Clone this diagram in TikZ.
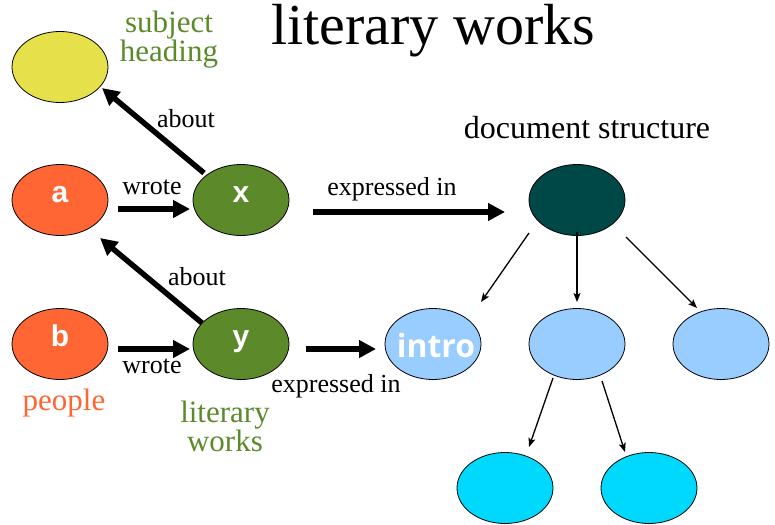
\documentclass[tikz,border=0pt]{standalone}
\usepackage{fontspec}
\setmainfont{Liberation Serif}
\newfontfamily\lsans{Liberation Sans}
\newfontfamily\osans{Open Sans}
\usetikzlibrary{shapes.geometric,arrows.meta}
\definecolor{cyel}{HTML}{E6E14A}
\definecolor{corange}{HTML}{FF6633}
\definecolor{cgreen}{HTML}{5C8A2B}
\definecolor{cdark}{HTML}{004848}
\definecolor{clblue}{HTML}{99CCFF}
\definecolor{ccyan}{HTML}{00D9FF}
\begin{document}
\begin{tikzpicture}[x=1pt,y=-1pt,
  ell/.style={ellipse, draw=black, line width=0.8pt, minimum width=96pt, minimum height=71pt,
    inner sep=0pt, text=white, font=\lsans\bfseries\fontsize{30}{30}\selectfont,
    text height=4pt, text depth=0pt},
  lbl/.style={anchor=base, inner sep=0pt, font=\fontsize{26}{26}\selectfont},
  cat/.style={anchor=base, inner sep=0pt, align=center, font=\fontsize{31}{29}\selectfont},
  bigarrow/.style={line width=5.5pt, -{Triangle[length=17pt,width=17pt]}},
  thinarrow/.style={line width=1.3pt, -{Stealth[length=9pt,width=7pt,inset=2pt]}}]
\useasboundingbox (0,0) rectangle (775,524);
% nodes
\node[ell, fill=cyel] (subj) at (60,67) {};
\node[ell, fill=corange] (a) at (60,200) {a};
\node[ell, fill=cgreen] (x) at (241,200) {x};
\node[ell, fill=corange] (b) at (60,344) {b};
\node[ell, fill=cgreen] (y) at (241,344) {y};
\node[ell, fill=clblue, font=\osans\bfseries\fontsize{32}{32}\selectfont, text height=26pt] (intro) at (433,344) {\makebox[0pt]{\hspace{6pt}intro}};
\node[ell, fill=cdark] (root) at (577,200) {};
\node[ell, fill=clblue] (mid) at (577,344) {};
\node[ell, fill=clblue] (right) at (721,344) {};
\node[ell, fill=ccyan] (cl) at (505,488) {};
\node[ell, fill=ccyan] (cr) at (649,488) {};
% texts
\node[anchor=base, inner sep=0pt, font=\fontsize{58}{58}\selectfont] (title) at (433,45) {literary works};
\node[anchor=base, inner sep=0pt, font=\fontsize{32}{32}\selectfont] (docs) at (587,138) {document structure};
\node[cat, text=cgreen] (subjlbl) at (169,62) {subject\\heading};
\node[cat, text=corange] (peoplelbl) at (64,410) {people};
\node[cat, text=cgreen] (litlbl) at (225,451) {literary\\works};
\node[lbl] (w1) at (152,194) {wrote};
\node[lbl] (w2) at (152,373) {wrote};
\node[lbl] (ab1) at (186,127) {about};
\node[lbl] (ab2) at (197,285) {about};
\node[lbl] (ex1) at (392,195) {expressed in};
\node[lbl] (ex2) at (336,392) {expressed in};
% connectors
\draw[bigarrow] ([shift={(58,9)}]a.center) -- ([shift={(-51,9)}]x.center);
\draw[bigarrow] ([shift={(58,5)}]b.center) -- ([shift={(-51,5)}]y.center);
\draw[bigarrow] ([shift={(-37,-27)}]x.center) -- ([shift={(42,21)}]subj.center);
\draw[bigarrow] ([shift={(-39,-21)}]y.center) -- ([shift={(40,38)}]a.center);
\draw[bigarrow] ([shift={(72,12)}]x.center) -- ([shift={(-72,12)}]root.center);
\draw[bigarrow] ([shift={(65,5)}]y.center) -- ([shift={(-57,5)}]intro.center);
\draw[thinarrow] ([shift={(-48,33)}]root.center) -- ([shift={(48,-42)}]intro.center);
\draw[thinarrow] ([shift={(0,32)}]root.center) -- ([shift={(0,-42)}]mid.center);
\draw[thinarrow] ([shift={(49,37)}]root.center) -- ([shift={(-24,-36)}]right.center);
\draw[thinarrow] ([shift={(-24,34)}]mid.center) -- ([shift={(24,-41)}]cl.center);
\draw[thinarrow] ([shift={(25,37)}]mid.center) -- ([shift={(-24,-36)}]cr.center);
\end{tikzpicture}
\end{document}
